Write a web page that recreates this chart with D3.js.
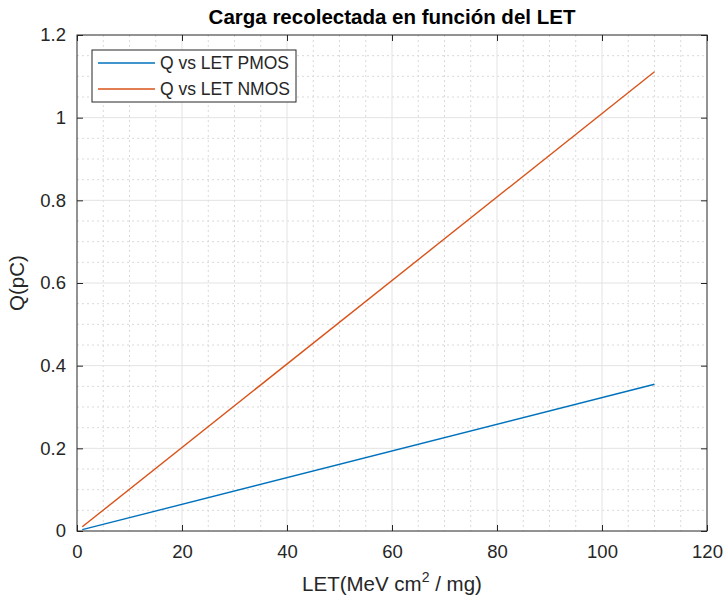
<!DOCTYPE html>
<html>
<head>
<meta charset="utf-8">
<script src="https://cdn.jsdelivr.net/npm/d3@7"></script>
<style>
  body { margin: 0; background: #fff; }
  text { font-family: "Liberation Sans", Arial, sans-serif; fill: #262626; }
</style>
</head>
<body>
<div id="dataviz"></div>
<script>
// data
var letValues = [1, 110];
var qPmos = [0.0032, 0.355];
var qNmos = [0.0101, 1.111];
var seriesNames = ["Q vs LET PMOS", "Q vs LET NMOS"];
var seriesColors = ["#0072BD", "#D95319"];
var xTicks = [0, 20, 40, 60, 80, 100, 120];
var yTicks = [0, 0.2, 0.4, 0.6, 0.8, 1, 1.2];

var W = 726, H = 598;
var margin = {top: 35, right: 19, bottom: 67, left: 77};
var width = W - margin.left - margin.right;
var height = H - margin.top - margin.bottom;

var svg = d3.select("#dataviz")
  .append("svg")
    .attr("width", W)
    .attr("height", H)
  .append("g")
    .attr("transform", "translate(" + margin.left + "," + margin.top + ")");

var x = d3.scaleLinear().domain([0, 120]).range([0, width]);
var y = d3.scaleLinear().domain([0, 1.2]).range([height, 0]);

// minor grid (dotted)
svg.append("g")
  .selectAll("line")
  .data(d3.range(5, 120, 5).filter(function(v) { return v % 20 != 0; }))
  .enter().append("line")
    .attr("x1", function(d) { return x(d); }).attr("x2", function(d) { return x(d); })
    .attr("y1", 0).attr("y2", height)
    .attr("stroke", "#d9d9d9").attr("stroke-dasharray", "2,3");
svg.append("g")
  .selectAll("line")
  .data(d3.range(1, 24).map(function(i) { return i * 0.05; }).filter(function(v, i) { return (i + 1) % 4 != 0; }))
  .enter().append("line")
    .attr("y1", function(d) { return y(d); }).attr("y2", function(d) { return y(d); })
    .attr("x1", 0).attr("x2", width)
    .attr("stroke", "#d9d9d9").attr("stroke-dasharray", "2,3");

// major grid
svg.append("g")
  .selectAll("line")
  .data(xTicks.slice(1, -1))
  .enter().append("line")
    .attr("x1", function(d) { return x(d); }).attr("x2", function(d) { return x(d); })
    .attr("y1", 0).attr("y2", height)
    .attr("stroke", "#e3e3e3");
svg.append("g")
  .selectAll("line")
  .data(yTicks.slice(1, -1))
  .enter().append("line")
    .attr("y1", function(d) { return y(d); }).attr("y2", function(d) { return y(d); })
    .attr("x1", 0).attr("x2", width)
    .attr("stroke", "#e3e3e3");

// axes (ticks inward, box on)
var tickLen = 6;
function styleAxis(g) {
  g.select(".domain").remove();
  g.selectAll(".tick line").attr("stroke", "#262626");
  g.selectAll(".tick text").style("font-size", "18.5px").attr("fill", "#262626");
}
svg.append("g")
  .attr("transform", "translate(0," + height + ")")
  .call(d3.axisBottom(x).tickValues(xTicks).tickSizeInner(-tickLen).tickSizeOuter(0).tickPadding(14))
  .call(styleAxis);
svg.append("g")
  .call(d3.axisTop(x).tickValues(xTicks).tickSizeInner(-tickLen).tickSizeOuter(0).tickFormat(""))
  .call(styleAxis);
svg.append("g")
  .call(d3.axisLeft(y).tickValues(yTicks).tickSizeInner(-tickLen).tickSizeOuter(0).tickPadding(11)
    .tickFormat(function(d) { return d3.format("~g")(d); }))
  .call(styleAxis);
svg.append("g")
  .attr("transform", "translate(" + width + ",0)")
  .call(d3.axisRight(y).tickValues(yTicks).tickSizeInner(-tickLen).tickSizeOuter(0).tickFormat(""))
  .call(styleAxis);

svg.append("rect")
  .attr("width", width).attr("height", height)
  .attr("fill", "none").attr("stroke", "#262626").attr("stroke-width", 1);

// lines
var line = d3.line()
  .x(function(d) { return x(d[0]); })
  .y(function(d) { return y(d[1]); });

[qPmos, qNmos].forEach(function(q, i) {
  svg.append("path")
    .datum(letValues.map(function(v, j) { return [v, q[j]]; }))
    .attr("fill", "none")
    .attr("stroke", seriesColors[i])
    .attr("stroke-width", 1.4)
    .attr("d", line);
});

// legend
var legend = svg.append("g").attr("transform", "translate(15,15)");
legend.append("rect")
  .attr("width", 204).attr("height", 52)
  .attr("fill", "#fff").attr("stroke", "#262626");
seriesNames.forEach(function(name, i) {
  var ly = 13 + i * 26;
  legend.append("line")
    .attr("x1", 6).attr("x2", 63).attr("y1", ly).attr("y2", ly)
    .attr("stroke", seriesColors[i]).attr("stroke-width", 1.4);
  legend.append("text")
    .attr("x", 68).attr("y", ly + 6)
    .style("font-size", "17.5px")
    .text(name);
});

// title
svg.append("text")
  .attr("x", width / 2).attr("y", -11)
  .style("font-size", "20.5px").style("font-weight", "bold")
  .style("text-anchor", "middle")
  .attr("fill", "#000").style("fill", "#000")
  .text("Carga recolectada en función del LET");

// x label
var xl = svg.append("text")
  .attr("x", width / 2).attr("y", height + 60)
  .style("font-size", "20.5px")
  .style("text-anchor", "middle");
xl.append("tspan").text("LET(MeV cm");
xl.append("tspan").attr("dy", -9).style("font-size", "14px").text("2");
xl.append("tspan").attr("dy", 9).text(" / mg)");

// y label
svg.append("text")
  .attr("transform", "translate(" + (-53) + "," + (height / 2) + ") rotate(-90)")
  .style("font-size", "20.5px")
  .style("text-anchor", "middle")
  .text("Q(pC)");
</script>
</body>
</html>
